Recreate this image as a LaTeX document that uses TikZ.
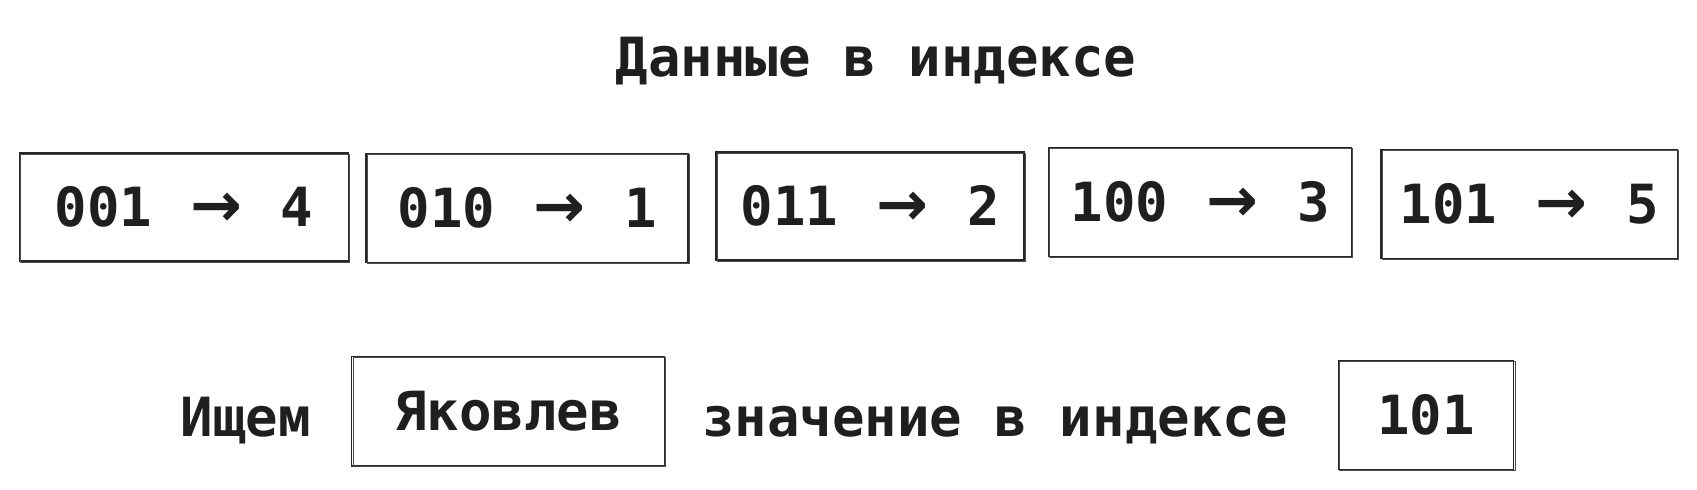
\documentclass[tikz,border=0pt]{standalone}
\usepackage{fontspec}
\setmonofont{DejaVu Sans Mono}
\newfontfamily\arrowfont{DejaVu Sans}
\tikzset{
  handfont/.style={font=\ttfamily\bfseries\fontsize{27}{32}\selectfont, text=black!88},
  sketchbox/.style={handfont, draw=black!85, line width=0.8pt, inner sep=0pt,
    postaction={draw=black!70, line width=0.45pt, transform canvas={shift={(0.7pt,-0.6pt)}}}},
  plaintext/.style={handfont, inner sep=0pt, anchor=base}
}
\newcommand{\maps}{ \kern3pt{\arrowfont\bfseries\fontsize{31}{32}\selectfont →}\kern3pt{} }
\begin{document}
\begin{tikzpicture}[x=0.5pt,y=0.5pt,yscale=-1,xscale=1]
  \useasboundingbox (0,0) rectangle (1697,489);
  % Title
  \node[plaintext] (title) at (876,76) {Данные в индексе};
  % Index entries
  \node[sketchbox, minimum width=164.5pt, minimum height=54pt] (e1) at (184,207) {001\maps 4};
  \node[sketchbox, minimum width=161pt, minimum height=54.5pt] (e2) at (527,208) {010\maps 1};
  \node[sketchbox, minimum width=154pt, minimum height=54pt] (e3) at (870,206) {011\maps 2};
  \node[sketchbox, minimum width=151.5pt, minimum height=54.5pt] (e4) at (1200,202) {100\maps 3};
  \node[sketchbox, minimum width=148.3pt, minimum height=54.5pt] (e5) at (1529,204) {101\maps 5};
  % Search row
  \node[plaintext] (find) at (246,436) {Ищем};
  \node[sketchbox, minimum width=156.4pt, minimum height=54.7pt] (name) at (508,411) {Яковлев};
  \node[plaintext] (value) at (995,436) {значение в индексе};
  \node[sketchbox, minimum width=87.6pt, minimum height=54.6pt] (code) at (1426,415) {101};
\end{tikzpicture}
\end{document}
